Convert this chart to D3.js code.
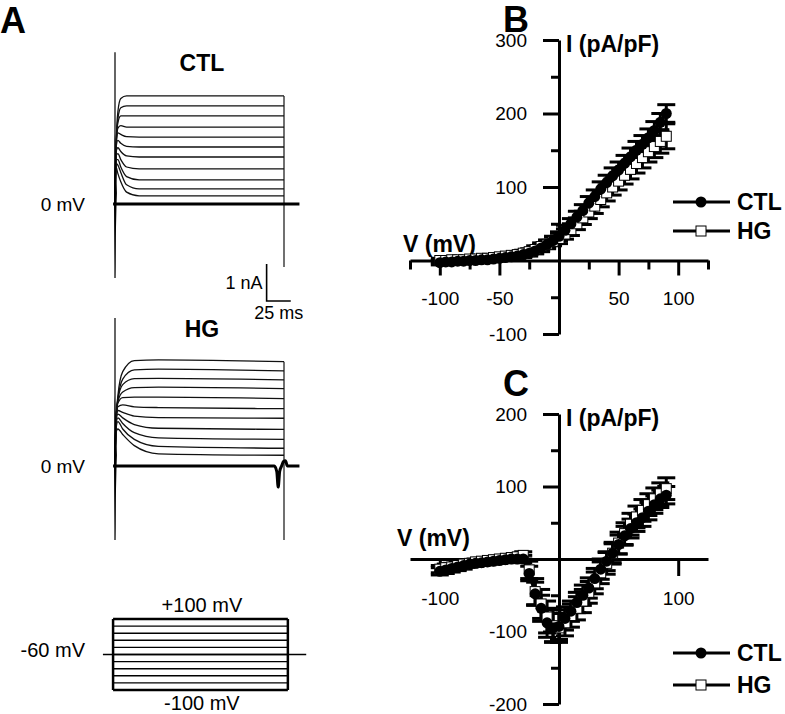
<!DOCTYPE html>
<html>
<head>
<meta charset="utf-8">
<script src="https://cdnjs.cloudflare.com/ajax/libs/d3/7.8.5/d3.min.js"></script>
<style>
  body { margin: 0; background: #fff; }
  svg { display: block; font-family: "Liberation Sans", Arial, sans-serif; }
</style>
</head>
<body>
<svg id="fig" width="785" height="714"></svg>
<script>
// ---------- panel A : current traces (nA) at key times (ms) ----------
const ctlTimes = [0, 1, 3, 6, 12, 25, 175];
const ctlTraces = [
  [0, 1.5, 2.5, 2.85, 2.92, 2.92, 2.92],
  [0, 1.5, 2.3, 2.6, 2.65, 2.65, 2.65],
  [0, 1.5, 2.2, 2.38, 2.38, 2.38, 2.38],
  [0, 1.5, 2.05, 2.12, 2.08, 2.08, 2.08],
  [0, 1.5, 1.92, 1.88, 1.82, 1.81, 1.81],
  [0, 1.5, 1.72, 1.64, 1.56, 1.54, 1.54],
  [0, 1.4, 1.52, 1.42, 1.3, 1.27, 1.27],
  [0, 1.3, 1.36, 1.2, 1.0, 0.95, 0.95],
  [0, 1.2, 1.2, 1.0, 0.74, 0.65, 0.65],
  [0, 1.1, 1.05, 0.85, 0.52, 0.41, 0.41],
  [0, 1.0, 0.82, 0.6, 0.32, 0.22, 0.22]
];
const hgTimes = [0, 1, 3, 8, 20, 45, 175];
const hgTraces = [
  [0, 1.2, 1.9, 2.55, 2.85, 2.87, 2.82],
  [0, 1.2, 1.8, 2.35, 2.6, 2.62, 2.57],
  [0, 1.2, 1.8, 2.2, 2.36, 2.37, 2.33],
  [0, 1.2, 1.75, 2.0, 2.12, 2.13, 2.09],
  [0, 1.2, 1.7, 1.85, 1.86, 1.86, 1.82],
  [0, 1.2, 1.6, 1.65, 1.6, 1.58, 1.55],
  [0, 1.2, 1.5, 1.45, 1.35, 1.31, 1.29],
  [0, 1.2, 1.4, 1.3, 1.12, 1.02, 0.99],
  [0, 1.1, 1.3, 1.15, 0.9, 0.76, 0.72],
  [0, 1.0, 1.2, 1.0, 0.72, 0.53, 0.48],
  [0, 0.9, 1.0, 0.85, 0.55, 0.33, 0.29]
];
// capacitive transients, baselines and tails ([ms, nA])
const ctlSpike = [[0, 4.1], [0, -2.0]];
const hgSpike = [[0, 4.0], [0, -2.0]];
const spikeCore = [[-1, 0], [-0.3, 1.9], [1.0, 1.2], [2.0, 0.3], [1.6, 0], [0.8, -0.9], [0.2, -2.0], [-0.5, -0.9]];
const ctlBaseline = [[-2, 0], [191, 0]];
const hgBaseline = [[-2, 0], [165, 0], [167.5, -0.15], [169, -0.57], [170.5, -0.15], [172.5, 0], [174.5, 0.12], [176.5, 0.14], [178.5, 0], [191, 0]];
const ctlTail = [[175, 2.92], [175, -1.7]];
const hgTail = [[175, 2.82], [175, -2.0]];
// scale bar
const barNa = 1, barMs = 25;
// voltage protocol (mV)
const protoSteps = [-100, -80, -60, -40, -20, 0, 20, 40, 60, 80, 100];
const protoStart = -2, protoEnd = 179, holdStart = -12.5, holdEnd = 198;

// ---------- panels B and C : I-V relations ----------
const volts = [-100, -95, -90, -85, -80, -75, -70, -65, -60, -55, -50, -45, -40, -35, -30, -25, -20, -15, -10, -5,
  0, 5, 10, 15, 20, 25, 30, 35, 40, 45, 50, 55, 60, 65, 70, 75, 80, 85, 90];

const ctlB = [-3, -2, -2, -1, -1, 0, 0, 1, 1, 2, 3, 4, 5, 6, 8, 10, 13, 17, 22, 27,
  33, 41, 50, 59, 68, 78, 87, 97, 106, 115, 123, 132, 141, 150, 158, 167, 177, 188, 200];
const ctlBErr = [3, 3, 3, 3, 3, 3, 3, 3, 3, 3, 3, 3, 3, 3, 4, 4, 4, 5, 5, 6,
  6, 7, 7, 8, 8, 9, 9, 10, 10, 11, 11, 11, 12, 12, 12, 12, 12, 12, 12];
const hgB = [0, 0, 1, 1, 1, 2, 2, 3, 3, 4, 5, 6, 7, 8, 10, 12, 15, 19, 22, 26,
  30, 36, 42, 50, 58, 66, 74, 83, 92, 100, 108, 116, 124, 132, 140, 148, 155, 162, 169];
const hgBErr = [3, 3, 3, 3, 3, 3, 3, 3, 3, 3, 3, 3, 3, 4, 4, 4, 5, 5, 6, 6,
  7, 7, 8, 8, 9, 9, 10, 10, 11, 11, 12, 12, 13, 13, 14, 14, 15, 16, 17];

const ctlC = [-17, -15, -13, -11, -9, -7, -6, -5, -4, -3, -2, -1, 0, 0, 0, -20, -48, -68, -88, -95,
  -93, -82, -72, -60, -50, -40, -27, -14, -3, 8, 20, 32, 42, 50, 57, 66, 75, 83, 88];
const ctlCErr = [5, 5, 5, 5, 5, 4, 4, 4, 4, 4, 4, 4, 4, 4, 5, 10, 16, 18, 20, 20,
  18, 16, 14, 14, 14, 14, 14, 14, 13, 13, 13, 13, 13, 12, 12, 12, 12, 12, 12];
const hgC = [-14, -12, -11, -9, -7, -6, -4, -3, -2, -1, 0, 1, 2, 3, 5, -15, -45, -62, -80, -92,
  -95, -88, -78, -68, -58, -46, -33, -19, -6, 8, 22, 35, 48, 58, 67, 75, 83, 90, 97];
const hgCErr = [5, 5, 5, 5, 5, 4, 4, 4, 4, 4, 4, 4, 4, 4, 5, 12, 18, 20, 22, 22,
  20, 18, 16, 16, 16, 15, 15, 15, 15, 15, 15, 15, 15, 15, 15, 15, 15, 15, 15];

const seriesNames = ["CTL", "HG"];

// ---------- drawing ----------
const svg = d3.select("#fig");
svg.append("rect").attr("width", 785).attr("height", 714).attr("fill", "#fff");

// panel letters
const letters = [["A", 0, 33], ["B", 503, 32], ["C", 503, 396]];
svg.selectAll("text.letter").data(letters).join("text")
  .attr("class", "letter")
  .attr("x", d => d[1]).attr("y", d => d[2])
  .attr("font-size", 36).attr("font-weight", "bold")
  .text(d => d[0]);

// ---- panel A ----
const tA = d3.scaleLinear().domain([0, 175]).range([115, 284]);

function tracePanel(times, traces, spike, baseline, tail, yScale) {
  const g = svg.append("g");
  const line = d3.line()
    .x(d => tA(d[0]))
    .y(d => yScale(d[1]))
    .curve(d3.curveMonotoneX);
  const straight = d3.line().x(d => tA(d[0])).y(d => yScale(d[1]));

  g.selectAll("path.trace").data(traces).join("path")
    .attr("class", "trace")
    .attr("d", vals => line(times.map((t, i) => [t, vals[i]])))
    .attr("fill", "none").attr("stroke", "#111").attr("stroke-width", 1.3);

  g.append("path").attr("d", straight(spike))
    .attr("stroke", "#111").attr("stroke-width", 1.3);
  g.append("path").attr("d", straight(spikeCore) + "Z")
    .attr("fill", "#000");
  g.append("path").attr("d", straight(tail))
    .attr("stroke", "#111").attr("stroke-width", 1.2);
  g.append("path").attr("d", line(baseline))
    .attr("fill", "none").attr("stroke", "#000").attr("stroke-width", 3);
  return g;
}

const iCtl = d3.scaleLinear().domain([0, 1]).range([204, 167]);
const iHg = d3.scaleLinear().domain([0, 1]).range([466, 429]);

tracePanel(ctlTimes, ctlTraces, ctlSpike, ctlBaseline, ctlTail, iCtl);
tracePanel(hgTimes, hgTraces, hgSpike, hgBaseline, hgTail, iHg);

svg.append("text").attr("x", tA(90)).attr("y", iCtl(3.8)).attr("text-anchor", "middle")
  .attr("font-size", 23).attr("font-weight", "bold").attr("dy", ".35em").text("CTL");
svg.append("text").attr("x", tA(90)).attr("y", iHg(3.7)).attr("text-anchor", "middle")
  .attr("font-size", 23).attr("font-weight", "bold").attr("dy", ".35em").text("HG");
svg.append("text").attr("x", 85).attr("y", iCtl(0)).attr("text-anchor", "end")
  .attr("font-size", 19).attr("dy", ".35em").text("0 mV");
svg.append("text").attr("x", 85).attr("y", iHg(0)).attr("text-anchor", "end")
  .attr("font-size", 19).attr("dy", ".35em").text("0 mV");

// scale bar
const barT0 = 157, barI0 = -2.62;
svg.append("path")
  .attr("d", d3.line()([[tA(barT0), iCtl(barI0 + barNa)], [tA(barT0), iCtl(barI0)], [tA(barT0 + barMs), iCtl(barI0)]]))
  .attr("fill", "none").attr("stroke", "#000").attr("stroke-width", 1.6);
svg.append("text").attr("x", tA(barT0) - 4).attr("y", iCtl(barI0 + barNa / 2)).attr("dy", ".35em")
  .attr("text-anchor", "end").attr("font-size", 18).text("1 nA");
svg.append("text").attr("x", tA(barT0 + barMs / 2)).attr("y", iCtl(barI0) + 12).attr("dy", ".35em")
  .attr("text-anchor", "middle").attr("font-size", 18).text("25 ms");

// protocol
const pY = d3.scaleLinear().domain([-100, 100]).range([690, 619]);
const pg = svg.append("g");
pg.selectAll("line.step").data(protoSteps).join("line")
  .attr("x1", tA(protoStart)).attr("x2", tA(protoEnd))
  .attr("y1", d => pY(d)).attr("y2", d => pY(d))
  .attr("stroke", "#000")
  .attr("stroke-width", d => (d === -100 || d === 100) ? 2.5 : 1.4);
pg.selectAll("line.side").data([protoStart, protoEnd]).join("line")
  .attr("x1", d => tA(d)).attr("x2", d => tA(d))
  .attr("y1", pY(-100)).attr("y2", pY(100))
  .attr("stroke", "#000").attr("stroke-width", 2.5);
// holding line, drawn at the centre of the step family as in the schematic
pg.append("line").attr("x1", tA(holdStart)).attr("x2", tA(holdEnd))
  .attr("y1", pY(0)).attr("y2", pY(0)).attr("stroke", "#000").attr("stroke-width", 1.4);
pg.append("text").attr("x", tA(90)).attr("y", pY(100) - 14).attr("dy", ".35em")
  .attr("text-anchor", "middle").attr("font-size", 20).text("+100 mV");
pg.append("text").attr("x", tA(90)).attr("y", pY(-100) + 13).attr("dy", ".35em")
  .attr("text-anchor", "middle").attr("font-size", 20).text("-100 mV");
pg.append("text").attr("x", 85).attr("y", pY(0) - 5).attr("dy", ".35em")
  .attr("text-anchor", "end").attr("font-size", 20).text("-60 mV");

// ---- panels B and C ----
function ivPanel(cfg) {
  const g = svg.append("g");
  const x = d3.scaleLinear().domain([-125, 125]).range([410, 708]);
  const y = d3.scaleLinear().domain(cfg.yDomain).range(cfg.yRange);
  const plain = d => String(d);

  function styleAxis(sel) {
    sel.selectAll("path, line").attr("stroke", "#000").attr("stroke-width", 3);
    sel.selectAll("text").attr("font-size", 19).attr("fill", "#000")
      .attr("font-family", "Liberation Sans, Arial, sans-serif");
  }

  // x axis
  const gx = g.append("g").attr("transform", `translate(0,${y(0)})`);
  gx.call(d3.axisBottom(x).tickValues(cfg.xMajor).tickFormat(plain)
      .tickSize(cfg.xMajorLen).tickSizeOuter(0).tickPadding(16))
    .call(styleAxis);
  if (cfg.xMinor.length) {
    g.append("g").attr("transform", `translate(0,${y(0)})`)
      .call(d3.axisBottom(x).tickValues(cfg.xMinor).tickSize(9).tickFormat(""))
      .call(s => s.select(".domain").remove())
      .call(styleAxis);
  }
  // y axis
  g.append("g").attr("transform", `translate(${x(0)},0)`)
    .call(d3.axisLeft(y).tickValues(cfg.yMajor).tickFormat(plain)
      .tickSize(16).tickSizeOuter(0).tickPadding(16))
    .call(styleAxis);
  g.append("g").attr("transform", `translate(${x(0)},0)`)
    .call(d3.axisLeft(y).tickValues(cfg.yMinor).tickSize(8).tickFormat(""))
    .call(s => s.select(".domain").remove())
    .call(styleAxis);

  // axis titles
  g.append("text").attr("x", cfg.vLabel[0]).attr("y", cfg.vLabel[1])
    .attr("font-size", 23).attr("font-weight", "bold").text("V (mV)");
  g.append("text").attr("x", x(0) + 7).attr("y", y(cfg.yDomain[1]) + 12)
    .attr("font-size", 23).attr("font-weight", "bold").text("I (pA/pF)");

  const series = [
    { name: "CTL", vals: cfg.ctl, err: cfg.ctlErr },
    { name: "HG", vals: cfg.hg, err: cfg.hgErr }
  ];
  const line = d3.line().x((d, i) => x(volts[i])).y(d => y(d));

  // error bars
  series.forEach(s => {
    const eg = g.append("g").attr("stroke", "#000").attr("stroke-width", 3);
    volts.forEach((v, i) => {
      const cx = x(v), lo = y(s.vals[i] - s.err[i]), hi = y(s.vals[i] + s.err[i]);
      eg.append("line").attr("x1", cx).attr("x2", cx).attr("y1", lo).attr("y2", hi);
      eg.append("line").attr("x1", cx - 9).attr("x2", cx + 9).attr("y1", lo).attr("y2", lo);
      eg.append("line").attr("x1", cx - 9).attr("x2", cx + 9).attr("y1", hi).attr("y2", hi);
    });
  });
  series.forEach(s => {
    g.append("path").attr("d", line(s.vals))
      .attr("fill", "none").attr("stroke", "#000").attr("stroke-width", 3);
  });
  g.selectAll("rect.hg").data(cfg.hg).join("rect")
    .attr("x", (d, i) => x(volts[i]) - 5).attr("y", d => y(d) - 5)
    .attr("width", 10).attr("height", 10)
    .attr("fill", "#fff").attr("stroke", "#000").attr("stroke-width", 1);
  g.selectAll("circle.ctl").data(cfg.ctl).join("circle")
    .attr("cx", (d, i) => x(volts[i])).attr("cy", d => y(d)).attr("r", 5.5).attr("fill", "#000");

  // legend
  seriesNames.forEach((name, k) => {
    const ly = cfg.legendY[k];
    const lg = g.append("g");
    lg.append("line").attr("x1", 673).attr("x2", 730).attr("y1", ly).attr("y2", ly)
      .attr("stroke", "#000").attr("stroke-width", 3);
    if (name === "CTL") {
      lg.append("circle").attr("cx", 701).attr("cy", ly).attr("r", 5.5).attr("fill", "#000");
    } else {
      lg.append("rect").attr("x", 696).attr("y", ly - 5).attr("width", 10).attr("height", 10)
        .attr("fill", "#fff").attr("stroke", "#000").attr("stroke-width", 1);
    }
    lg.append("text").attr("x", 737).attr("y", ly).attr("dy", ".35em")
      .attr("font-size", 23).attr("font-weight", "bold").text(name);
  });
}

ivPanel({
  yDomain: [-100, 300], yRange: [334, 40],
  xMajor: [-100, -50, 50, 100], xMinor: [-125, -75, -25, 25, 75, 125], xMajorLen: 15,
  yMajor: [-100, 100, 200, 300], yMinor: [-50, 50, 150, 250],
  vLabel: [403, 252],
  ctl: ctlB, ctlErr: ctlBErr, hg: hgB, hgErr: hgBErr,
  legendY: [202, 231]
});

ivPanel({
  yDomain: [-200, 200], yRange: [704, 414],
  xMajor: [-100, 100], xMinor: [], xMajorLen: 17,
  yMajor: [-200, -100, 100, 200], yMinor: [-150, -50, 50, 150],
  vLabel: [397, 546],
  ctl: ctlC, ctlErr: ctlCErr, hg: hgC, hgErr: hgCErr,
  legendY: [653, 685]
});
</script>
</body>
</html>
